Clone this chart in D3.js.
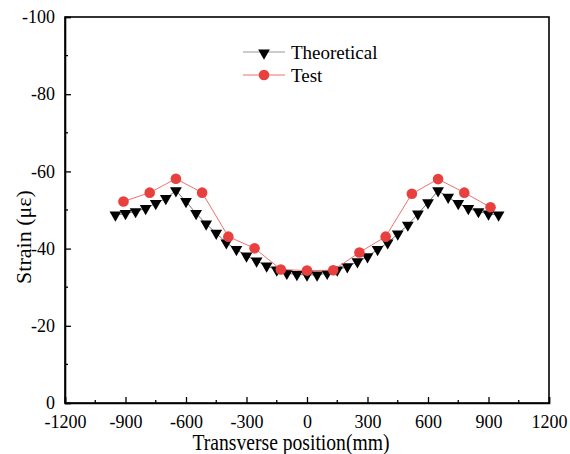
<!DOCTYPE html>
<html><head><meta charset="utf-8">
<script src="https://cdn.jsdelivr.net/npm/d3@7"></script>
<style>body{margin:0;background:#fff;} svg text{font-family:"Liberation Serif",serif !important;}</style>
</head><body><svg id="c" width="570" height="454"></svg>
<script>
const theoX = [-950,-900,-850,-800,-750,-700,-650,-600,-550,-500,-450,-400,-350,-300,-250,-200,-150,-100,-50,0,50,100,150,200,250,300,350,400,450,500,550,600,650,700,750,800,850,900,950];
const theoY = [-48.7,-49.1,-49.6,-50.4,-51.7,-53.0,-55.0,-52.2,-49.1,-46.4,-44.0,-41.5,-39.8,-38.1,-36.8,-35.5,-34.5,-33.6,-33.3,-33.2,-33.2,-33.6,-34.5,-35.3,-36.6,-37.9,-39.8,-41.5,-43.8,-46.1,-49.0,-51.9,-55.0,-53.3,-51.7,-50.4,-49.6,-49.0,-48.7];
const testX = [-910,-780,-650,-520,-390,-260,-130,0,130,260,390,520,650,780,910];
const testY = [-52.2,-54.5,-58.1,-54.5,-43.1,-40.1,-34.6,-34.3,-34.4,-39.0,-43.1,-54.2,-58.0,-54.5,-50.7];
const xTicks = [-1200,-900,-600,-300,0,300,600,900,1200];
const yTicks = [0,-20,-40,-60,-80,-100];
const legendLabels = ["Theoretical","Test"];

const svg = d3.select("#c");
const L=65,R=549,T=17,B=403;
const x = d3.scaleLinear().domain([-1200,1200]).range([L,R]);
const y = d3.scaleLinear().domain([0,-100]).range([B,T]);
const fmt = d => String(d);
const FONT = "Liberation Serif";

// frame
svg.append("rect").attr("x",L).attr("y",T).attr("width",R-L).attr("height",B-T)
  .attr("fill","none").attr("stroke","#000").attr("stroke-width",1.6);

// x axis
const xAx = svg.append("g").attr("transform",`translate(0,${B})`)
  .call(d3.axisBottom(x).tickValues(xTicks).tickSize(-6).tickPadding(12).tickFormat(fmt));
xAx.append("g").selectAll("line").data(d3.range(-1050,1200,300)).join("line")
  .attr("x1",d=>x(d)).attr("x2",d=>x(d)).attr("y1",0).attr("y2",-3).attr("stroke","#000").attr("stroke-width",1.3);
// y axis
const yAx = svg.append("g").attr("transform",`translate(${L},0)`)
  .call(d3.axisLeft(y).tickValues(yTicks).tickSize(-6).tickPadding(10).tickFormat(fmt));
yAx.append("g").selectAll("line").data(d3.range(-10,-100,-20)).join("line")
  .attr("y1",d=>y(d)).attr("y2",d=>y(d)).attr("x1",0).attr("x2",3).attr("stroke","#000").attr("stroke-width",1.3);
[xAx,yAx].forEach(a=>{
  a.attr("font-family",FONT).attr("font-size",18);
  a.select(".domain").attr("stroke","#000").attr("stroke-width",1.6);
  a.selectAll(".tick line").attr("stroke","#000").attr("stroke-width",1.3);
  a.selectAll("text").attr("font-size",18).attr("fill","#000").style("font-family",FONT);
});

// titles
svg.append("text").attr("x",x(0)-16).attr("y",450).attr("text-anchor","middle").attr("font-size",23)
  .attr("textLength",197).attr("lengthAdjust","spacingAndGlyphs").style("font-family",FONT).text("Transverse position(mm)");
svg.append("text").attr("transform","translate(31,237) rotate(-90)").attr("text-anchor","middle").attr("font-size",22).style("font-family",FONT).text("Strain (με)");

const line = d3.line().x(d=>x(d[0])).y(d=>y(d[1]));
const theo = theoX.map((v,i)=>[v,theoY[i]]);
const test = testX.map((v,i)=>[v,testY[i]]);
const tri = d3.symbol().type(d3.symbolTriangle).size(60);

svg.append("path").datum(theo).attr("d",line).attr("fill","none").attr("stroke","#777").attr("stroke-width",1);
svg.append("g").selectAll("path").data(theo).join("path")
  .attr("d",tri).attr("transform",d=>`translate(${x(d[0])},${y(d[1])}) rotate(180)`).attr("fill","#000");

svg.append("path").datum(test).attr("d",line).attr("fill","none").attr("stroke","#f07070").attr("stroke-width",1);
svg.append("g").selectAll("circle").data(test).join("circle")
  .attr("cx",d=>x(d[0])).attr("cy",d=>y(d[1])).attr("r",5.3).attr("fill","#e8403f");

// legend
const lg = svg.append("g");
lg.append("line").attr("x1",243).attr("x2",285).attr("y1",52).attr("y2",52).attr("stroke","#999").attr("stroke-width",1);
lg.append("path").attr("d",tri).attr("transform","translate(264,53) rotate(180)").attr("fill","#000");
lg.append("text").attr("x",291).attr("y",58.5).attr("font-size",19).style("font-family",FONT).text(legendLabels[0]);
lg.append("line").attr("x1",243).attr("x2",285).attr("y1",75).attr("y2",75).attr("stroke","#f07070").attr("stroke-width",1);
lg.append("circle").attr("cx",264).attr("cy",75).attr("r",5.3).attr("fill","#e8403f");
lg.append("text").attr("x",291).attr("y",81.5).attr("font-size",19).style("font-family",FONT).text(legendLabels[1]);
</script></body></html>
